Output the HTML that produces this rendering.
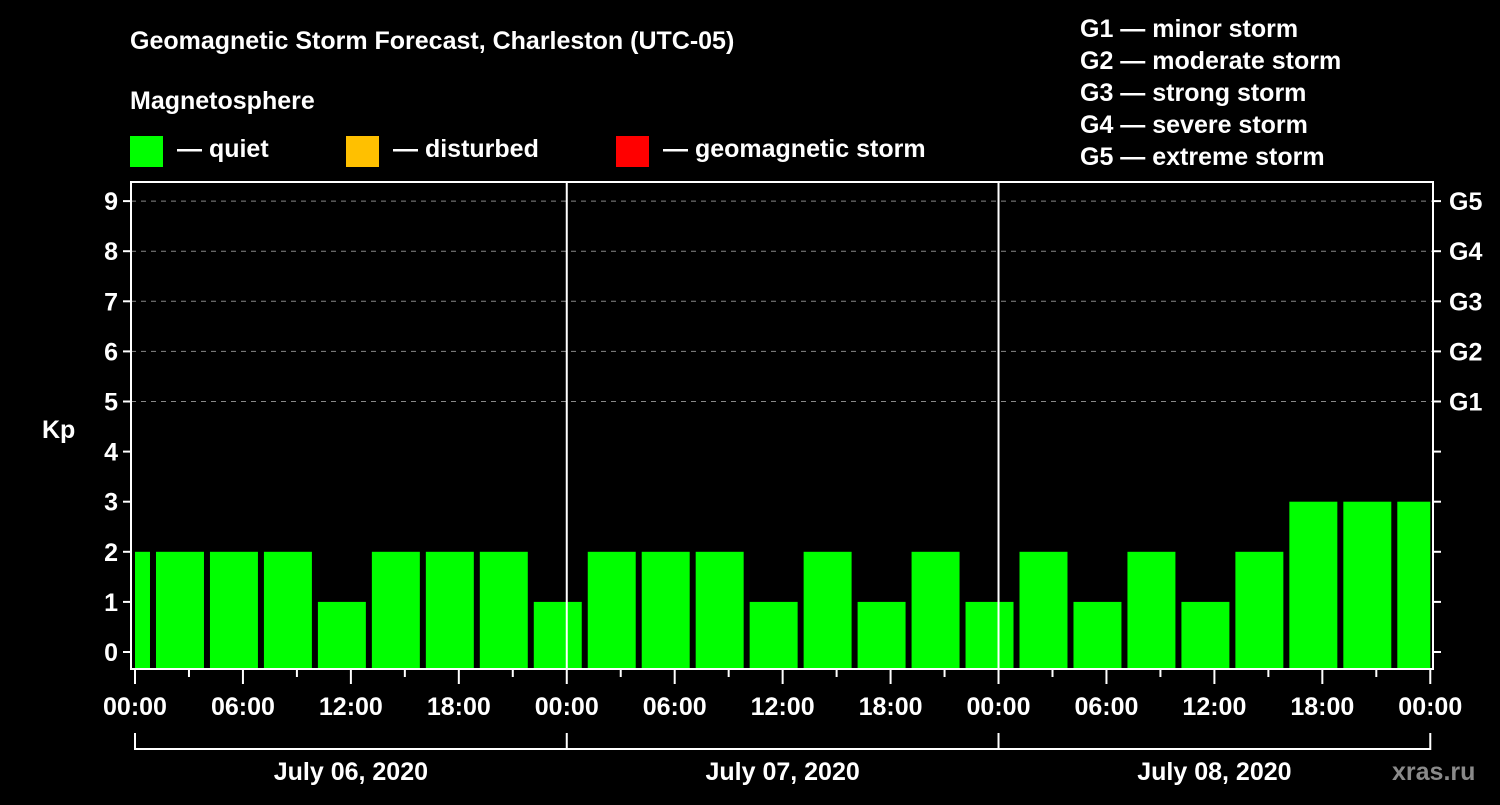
<!DOCTYPE html>
<html><head><meta charset="utf-8"><style>
body{margin:0;background:#000;width:1500px;height:800px;overflow:hidden}
svg text{font-family:"Liberation Sans",sans-serif;font-weight:bold;fill:#fff}
</style></head><body>
<svg id="c" width="1500" height="800">
<text x="130" y="49" font-size="25">Geomagnetic Storm Forecast, Charleston (UTC-05)</text>
<text x="130" y="109" font-size="25">Magnetosphere</text>
<rect x="130" y="136" width="33" height="31" fill="#00ff00"/>
<text x="177" y="157" font-size="25">— quiet</text>
<rect x="346" y="136" width="33" height="31" fill="#ffc000"/>
<text x="393" y="157" font-size="25">— disturbed</text>
<rect x="616" y="136" width="33" height="31" fill="#ff0000"/>
<text x="663" y="157" font-size="25">— geomagnetic storm</text>
<g font-size="25">
<text x="1080" y="37">G1 — minor storm</text>
<text x="1080" y="69">G2 — moderate storm</text>
<text x="1080" y="101">G3 — strong storm</text>
<text x="1080" y="133">G4 — severe storm</text>
<text x="1080" y="165">G5 — extreme storm</text>
</g>
<g id="plot"></g>
<text x="42" y="438" font-size="25">Kp</text>
<text x="1392" y="780" font-size="25" fill="#888" style="fill:#8a8a8a">xras.ru</text>
</svg>
<script>
const barStartHours=[-2,1,4,7,10,13,16,19,22,25,28,31,34,37,40,43,46,49,52,55,58,61,64,67,70];
const kpValues=[2,2,2,2,1,2,2,2,1,2,2,2,1,2,1,2,1,2,1,2,1,2,3,3,3];
const hourTickLabels=["00:00","06:00","12:00","18:00","00:00","06:00","12:00","18:00","00:00","06:00","12:00","18:00","00:00"];
const dayLabels=["July 06, 2020","July 07, 2020","July 08, 2020"];
const kpTicks=[0,1,2,3,4,5,6,7,8,9];
const gLabels=["G1","G2","G3","G4","G5"];
const NS="http://www.w3.org/2000/svg";
const g=document.getElementById('plot');
const X=h=>135+h*17.99, Y=v=>652-v*50.1;
const L=131,R=1433,T=182,B=669;
function mk(t,a,txt){const e=document.createElementNS(NS,t);for(const k in a)e.setAttribute(k,a[k]);if(txt!==undefined)e.textContent=txt;g.appendChild(e);return e;}
// grid
for(let v=5;v<=9;v++){const e=mk('line',{x1:L,x2:R,y1:Y(v),y2:Y(v),stroke:'#888','stroke-dasharray':'5,5','stroke-width':1});

}
// bars
barStartHours.forEach((h,i)=>{const v=kpValues[i];const x0=Math.max(X(h)+3,L+4),x1=Math.min(X(h+3)-3,X(72));
const c=v>=5?'#ff0000':(v>=4?'#ffc000':'#00ff00');
const e=mk('rect',{x:x0,y:Y(v),width:x1-x0,height:B-1-Y(v),fill:c});

});
// day separators
[24,48].forEach(h=>{const e=mk('line',{x1:X(h),x2:X(h),y1:T,y2:B,stroke:'#fff','stroke-width':2});

});
// frame
const f=mk('rect',{x:L,y:T,width:R-L,height:B-T,fill:'none',stroke:'#fff','stroke-width':2});


// y ticks
kpTicks.forEach(v=>{mk('line',{x1:L-8,x2:L,y1:Y(v),y2:Y(v),stroke:'#fff','stroke-width':2});
mk('line',{x1:R,x2:R+8,y1:Y(v),y2:Y(v),stroke:'#fff','stroke-width':2});
const t=mk('text',{x:118,y:Y(v)+9,'font-size':25,'text-anchor':'end'},String(v));

});
gLabels.forEach((s,i)=>{const t=mk('text',{x:1449,y:Y(5+i)+9,'font-size':25},s);

});
// x ticks
for(let h=0;h<=72;h+=3){const big=h%6===0;mk('line',{x1:X(h),x2:X(h),y1:B,y2:B+(big?15:8),stroke:'#fff','stroke-width':2});}
hourTickLabels.forEach((s,i)=>{const t=mk('text',{x:X(i*6),y:715,'font-size':25,'text-anchor':'middle'},s);

});
// day brackets
mk('line',{x1:X(0),x2:X(72),y1:749,y2:749,stroke:'#fff','stroke-width':2});
[0,24,48,72].forEach(h=>mk('line',{x1:X(h),x2:X(h),y1:733,y2:750,stroke:'#fff','stroke-width':2}));
dayLabels.forEach((s,i)=>{const t=mk('text',{x:X(i*24+12),y:780,'font-size':25,'text-anchor':'middle'},s);

});
</script>
</body></html>
